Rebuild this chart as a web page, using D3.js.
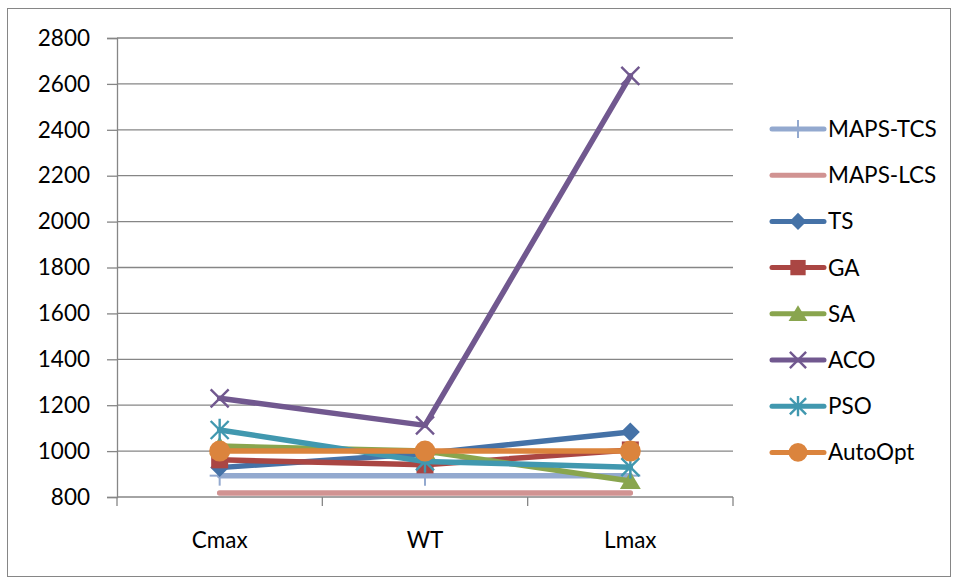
<!DOCTYPE html>
<html>
<head>
<meta charset="utf-8">
<script src="https://cdn.jsdelivr.net/npm/d3@7"></script>
<style>
  html, body { margin: 0; padding: 0; background: #fff; }
  svg { display: block; }
  text { font-family: Lato, "Open Sans", "Liberation Sans", sans-serif; fill: #000; }
</style>
</head>
<body>
<svg id="chart" width="955" height="579"></svg>
<script>
// Objective values per method for each criterion
const categories = ["Cmax", "WT", "Lmax"];
const seriesNames = ["MAPS-TCS", "MAPS-LCS", "TS", "GA", "SA", "ACO", "PSO", "AutoOpt"];
const mapsTcs = [893, 893, 893];
const mapsLcs = [817, 817, 817];
const ts      = [928, 990, 1083];
const ga      = [962, 940, 1005];
const sa      = [1022, 1000, 870];
const aco     = [1230, 1112, 2635];
const pso     = [1092, 955, 930];
const autoOpt = [1000, 1000, 1000];
const yTicks  = [800, 1000, 1200, 1400, 1600, 1800, 2000, 2200, 2400, 2600, 2800];

const seriesValues = [mapsTcs, mapsLcs, ts, ga, sa, aco, pso, autoOpt];
const colors  = ["#93A9CF", "#D19392", "#4572A7", "#AA4643", "#89A54E", "#71588F", "#4198AF", "#DB843D"];
const markers = ["plus", "none", "diamond", "square", "triangle", "cross", "asterisk", "circle"];

const FONT = 22.5;
const svg = d3.select("#chart");

// outer frame
svg.append("rect").attr("x", 7.5).attr("y", 8.5).attr("width", 943).attr("height", 568)
  .attr("fill", "none").attr("stroke", "#868686").attr("stroke-width", 1);

const plot = { left: 117, right: 733, top: 38, bottom: 497 };

const x = d3.scaleBand().domain(categories).range([plot.left, plot.right]);
const y = d3.scaleLinear().domain([800, 2800]).range([plot.bottom, plot.top]);

// horizontal gridlines
svg.append("g").selectAll("line").data(yTicks.slice(1)).join("line")
  .attr("x1", plot.left).attr("x2", plot.right)
  .attr("y1", d => y(d)).attr("y2", d => y(d))
  .attr("stroke", "#868686").attr("stroke-width", 1.3);

// y axis
const yAxis = svg.append("g").attr("transform", `translate(${plot.left},0)`)
  .call(d3.axisLeft(y).tickValues(yTicks).tickSize(10).tickPadding(17).tickFormat(d3.format("d")));
yAxis.select(".domain").attr("stroke", "#868686").attr("stroke-width", 1.3);
yAxis.selectAll(".tick line").attr("stroke", "#868686").attr("stroke-width", 1.3);
yAxis.selectAll(".tick text").attr("font-size", FONT).attr("fill", "#000")
  .style("font-family", "Lato, 'Open Sans', sans-serif");

// x axis with tick marks at category boundaries
const xg = svg.append("g");
xg.append("line").attr("x1", plot.left).attr("x2", plot.right)
  .attr("y1", plot.bottom).attr("y2", plot.bottom)
  .attr("stroke", "#868686").attr("stroke-width", 1.6);
const bounds = categories.map(c => x(c)).concat([x(categories[categories.length - 1]) + x.bandwidth()]);
xg.selectAll("line.tk").data(bounds).join("line").attr("class", "tk")
  .attr("x1", d => d).attr("x2", d => d)
  .attr("y1", plot.bottom).attr("y2", plot.bottom + 9)
  .attr("stroke", "#868686").attr("stroke-width", 1.3);
xg.selectAll("text").data(categories).join("text")
  .attr("x", d => x(d) + x.bandwidth() / 2).attr("y", 548)
  .attr("text-anchor", "middle").attr("font-size", FONT).text(d => d);

// marker drawing
function drawMarker(g, type, cx, cy, color, scale) {
  const s = scale || 1;
  if (type === "plus") {
    g.append("line").attr("x1", cx).attr("x2", cx).attr("y1", cy - 10 * s).attr("y2", cy + 10 * s)
      .attr("stroke", color).attr("stroke-width", 2);
    g.append("line").attr("x1", cx - 10 * s).attr("x2", cx + 10 * s).attr("y1", cy).attr("y2", cy)
      .attr("stroke", color).attr("stroke-width", 2);
  } else if (type === "diamond") {
    const r = 9.5 * s;
    g.append("path").attr("d", `M${cx},${cy - r}L${cx + r},${cy}L${cx},${cy + r}L${cx - r},${cy}Z`)
      .attr("fill", color);
  } else if (type === "square") {
    const r = 8.5 * s;
    g.append("rect").attr("x", cx - r).attr("y", cy - r).attr("width", 2 * r).attr("height", 2 * r)
      .attr("fill", color);
  } else if (type === "triangle") {
    const r = 9.5 * s;
    g.append("path").attr("d", `M${cx},${cy - r}L${cx + r * 1.1},${cy + r * 0.85}L${cx - r * 1.1},${cy + r * 0.85}Z`)
      .attr("fill", color);
  } else if (type === "cross") {
    const r = 9 * s;
    g.append("path").attr("d", `M${cx - r},${cy - r}L${cx + r},${cy + r}M${cx + r},${cy - r}L${cx - r},${cy + r}`)
      .attr("stroke", color).attr("stroke-width", 2.4);
  } else if (type === "asterisk") {
    const r = 9 * s;
    g.append("path").attr("d", `M${cx - r},${cy - r}L${cx + r},${cy + r}M${cx + r},${cy - r}L${cx - r},${cy + r}M${cx},${cy - r * 1.25}L${cx},${cy + r * 1.25}`)
      .attr("stroke", color).attr("stroke-width", 2.4);
  } else if (type === "circle") {
    g.append("circle").attr("cx", cx).attr("cy", cy).attr("r", 10.5 * s).attr("fill", color);
  }
}

// series lines and markers
const line = d3.line().x((d, i) => x(categories[i]) + x.bandwidth() / 2).y(d => y(d));
seriesValues.forEach((vals, k) => {
  const g = svg.append("g");
  g.append("path").datum(vals).attr("d", line)
    .attr("fill", "none").attr("stroke", colors[k]).attr("stroke-width", 5.5)
    .attr("stroke-linejoin", "round").attr("stroke-linecap", "round");
  vals.forEach((v, i) => drawMarker(g, markers[k], x(categories[i]) + x.bandwidth() / 2, y(v), colors[k]));
});

// legend
const legend = svg.append("g");
seriesNames.forEach((name, k) => {
  const ly = 129 + k * 46.2;
  const g = legend.append("g");
  g.append("line").attr("x1", 772).attr("x2", 824).attr("y1", ly).attr("y2", ly)
    .attr("stroke", colors[k]).attr("stroke-width", 5).attr("stroke-linecap", "round");
  drawMarker(g, markers[k], 798, ly, colors[k], 0.9);
  g.append("text").attr("x", 828).attr("y", ly + 8).attr("font-size", FONT).text(name);
});
</script>
</body>
</html>
